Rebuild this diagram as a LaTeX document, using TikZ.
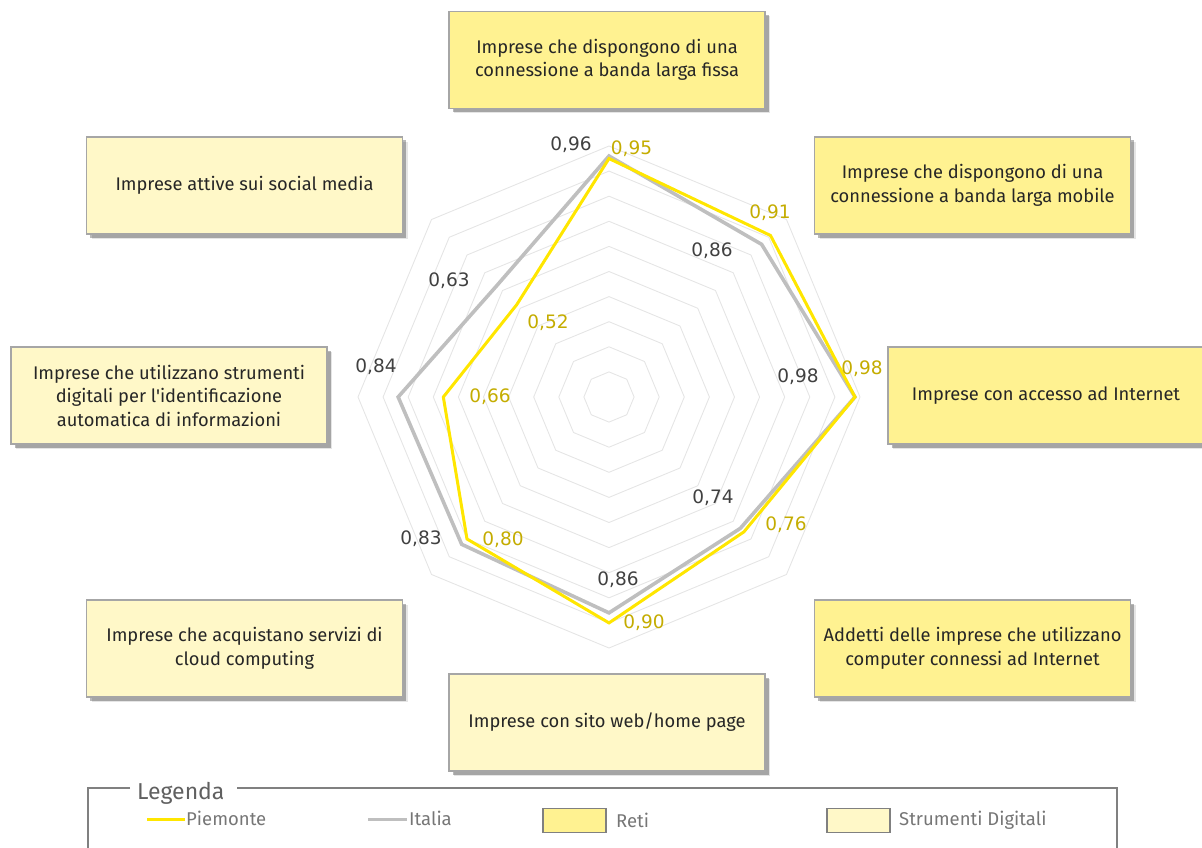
\documentclass[tikz,border=0pt]{standalone}
\usepackage{fontspec}
\setmainfont{Fira Sans}
\newfontfamily\boxfont[Ligatures=TeXOff]{Fira Sans}
\newfontfamily\valfont{DejaVu Sans}
\usetikzlibrary{shadows}
\definecolor{retifill}{RGB}{255,242,145}
\definecolor{strufill}{RGB}{255,248,200}
\definecolor{boxline}{RGB}{166,166,166}
\definecolor{ringcol}{RGB}{229,229,229}
\definecolor{piemcol}{RGB}{255,230,0}
\definecolor{italcol}{RGB}{191,191,191}
\definecolor{piemtext}{RGB}{196,172,0}
\definecolor{italtext}{RGB}{64,64,64}
\definecolor{boxtext}{RGB}{38,38,38}
\definecolor{legline}{RGB}{128,128,128}
\definecolor{legtext}{RGB}{118,118,118}
\definecolor{legtitle}{RGB}{96,96,96}
\tikzset{
  catbox/.style={draw=boxline, line width=1.6pt, minimum width=316pt, minimum height=97pt,
    align=center, inner sep=0pt, text=boxtext, font=\boxfont\fontsize{18.3}{23.5}\selectfont,
    drop shadow={shadow xshift=5pt, shadow yshift=-5pt, fill=black, opacity=0.10},
    drop shadow={shadow xshift=3.5pt, shadow yshift=-3.5pt, fill=black, opacity=0.28}},
  retibox/.style={catbox, fill=retifill},
  strubox/.style={catbox, fill=strufill},
  ring/.style={draw=ringcol, line width=0.9pt},
  italline/.style={draw=italcol, line width=3.6pt, line join=miter},
  piemline/.style={draw=piemcol, line width=3pt, line join=miter},
  vlabel/.style={font=\valfont\fontsize{18.5}{20}\selectfont, inner sep=0pt, text height=13.5pt, text depth=0pt},
  italval/.style={vlabel, text=italtext},
  piemval/.style={vlabel, text=piemtext},
  legframe/.style={draw=legline, line width=1.8pt},
  legitem/.style={font=\fontsize{18.5}{20}\selectfont, text=legtext, inner sep=0pt, anchor=west},
  legswatch/.style={draw=legline, line width=1.6pt, minimum width=63pt, minimum height=24pt, inner sep=0pt}
}
\begin{document}
\begin{tikzpicture}[x=1pt,y=-1pt]
\useasboundingbox (0,0) rectangle (1202,848);

% category boxes
\node[retibox] (fissa) at (607,60) {Imprese che dispongono di una\\connessione a banda larga fissa};
\node[retibox] (mobile) at (972.5,185.5) {Imprese che dispongono di una\\connessione a banda larga mobile};
\node[retibox] (internet) at (1046,395.5) {Imprese con accesso ad Internet};
\node[retibox] (addetti) at (972.5,648.5) {Addetti delle imprese che utilizzano\\computer connessi ad Internet};
\node[strubox] (sito) at (607,722.5) {Imprese con sito web/home page};
\node[strubox] (cloud) at (244.5,648.5) {Imprese che acquistano servizi di\\cloud computing};
\node[strubox] (ident) at (169,395.5) {Imprese che utilizzano strumenti\\digitali per l'identificazione\\automatica di informazioni};
\node[strubox] (social) at (244.5,185.5) {Imprese attive sui social media};

% radar grid and series
\begin{scope}[shift={(609pt,-397pt)}, x=1pt, y=1pt]
  \foreach \k in {1,...,10}{
    \pgfmathsetmacro{\r}{25.1*\k}
    \draw[ring] (0:\r) \foreach \a in {45,90,...,315}{ -- (\a:\r)} -- cycle;
  }
  % Italia
  \foreach \a/\v/\n in {90/0.96/1, 45/0.86/2, 0/0.98/3, -45/0.74/4, -90/0.86/5, -135/0.83/6, 180/0.84/7, 135/0.63/8}
    \coordinate (it\n) at (\a:{251*\v});
  % Piemonte
  \foreach \a/\v/\n in {90/0.95/1, 45/0.91/2, 0/0.98/3, -45/0.76/4, -90/0.90/5, -135/0.80/6, 180/0.66/7, 135/0.52/8}
    \coordinate (pm\n) at (\a:{251*\v});
  \draw[italline] (it1) -- (it2) -- (it3) -- (it4) -- (it5) -- (it6) -- (it7) -- (it8) -- cycle;
  \draw[piemline] (pm1) -- (pm2) -- (pm3) -- (pm4) -- (pm5) -- (pm6) -- (pm7) -- (pm8) -- cycle;
\end{scope}

% value labels
\node[italval] (vi1) at (571,144) {0,96};
\node[piemval] (vp1) at (631.5,148) {0,95};
\node[piemval] (vp2) at (770,212) {0,91};
\node[italval] (vi2) at (712,250) {0,86};
\node[italval] (vi3) at (798,376) {0,98};
\node[piemval] (vp3) at (862,368) {0,98};
\node[italval] (vi4) at (713,497) {0,74};
\node[piemval] (vp4) at (786,524) {0,76};
\node[italval] (vi5) at (618,579) {0,86};
\node[piemval] (vp5) at (644,622) {0,90};
\node[italval] (vi6) at (421,538) {0,83};
\node[piemval] (vp6) at (503,539) {0,80};
\node[italval] (vi7) at (376,366) {0,84};
\node[piemval] (vp7) at (490,396) {0,66};
\node[italval] (vi8) at (449,280) {0,63};
\node[piemval] (vp8) at (548,322) {0,52};

% legend
\node[font=\fontsize{23}{26}\selectfont, text=legtitle, inner sep=0pt, anchor=base west] (legtitle) at (137,799) {Legenda};
\coordinate (fl1) at (130,788);
\coordinate (fl2) at (88,788);
\coordinate (fl3) at (88,852);
\coordinate (fr1) at (237,788);
\coordinate (fr2) at (1117,788);
\coordinate (fr3) at (1117,852);
\draw[legframe] (fl1) -- (fl2) -- (fl3);
\draw[legframe] (fr1) -- (fr2) -- (fr3);

\coordinate (pa) at (147,819);
\coordinate (pb) at (185,819);
\draw[draw=piemcol, line width=3pt] (pa) -- (pb);
\node[legitem] (lpiem) at (186,818) {Piemonte};
\coordinate (ia) at (368,819);
\coordinate (ib) at (407,819);
\draw[draw=italcol, line width=3pt] (ia) -- (ib);
\node[legitem] (lital) at (409,818) {Italia};
\node[legswatch, fill=retifill] (sreti) at (574.5,820.5) {};
\node[legitem] (lreti) at (616,820) {Reti};
\node[legswatch, fill=strufill] (sstru) at (858.5,820.5) {};
\node[legitem] (lstru) at (899,820) {Strumenti Digitali};
\end{tikzpicture}
\end{document}
